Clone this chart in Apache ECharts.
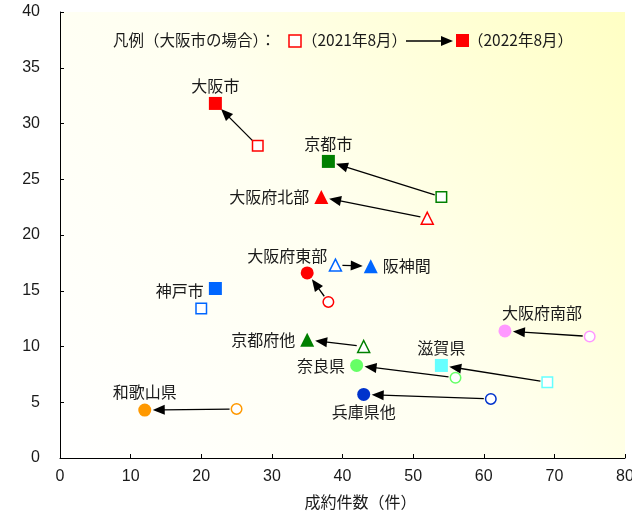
<!DOCTYPE html>
<html><head><meta charset="utf-8">
<script src="https://cdn.jsdelivr.net/npm/echarts@6/dist/echarts.min.js"></script>
<style>html,body{margin:0;padding:0;background:#fff}#c{width:632px;height:511px}</style>
</head><body><div id="c"></div>
<script>
const regions = ['大阪市','京都市','大阪府北部','大阪府東部','阪神間','神戸市','京都府他','奈良県','兵庫県他','滋賀県','大阪府南部','和歌山県'];
const x2021 = [28, 54, 52, 38, 39, 20, 43, 56, 61, 69, 75, 25];
const y2021 = [28.0, 23.4, 21.5, 14.0, 17.3, 13.4, 10.0, 7.2, 5.3, 6.8, 10.9, 4.4];
const x2022 = [22, 38, 37, 35, 44, 22, 35, 42, 43, 54, 63, 12];
const y2022 = [31.8, 26.6, 23.4, 16.6, 17.2, 15.2, 10.6, 8.3, 5.7, 8.3, 11.4, 4.3];
const hasArrow = [true, true, true, true, true, false, true, true, true, true, true, true];
const xTicks = [0, 10, 20, 30, 40, 50, 60, 70, 80];
const yTicks = [0, 5, 10, 15, 20, 25, 30, 35, 40];

// styling per region
const colors = ['#ff0000','#008000','#ff0000','#ff0000','#0066ff','#0066ff','#008000','#66ff66','#0033cc','#66ffff','#ff99ff','#ff9900'];
const shapes = ['rect','rect','triangle','circle','triangle','rect','triangle','circle','circle','rect','circle','circle'];
const labelCfg = {
  '大阪市': {position:'top', distance:3},
  '京都市': {position:'top', distance:3},
  '大阪府北部': {position:'left', distance:5},
  '大阪府東部': {position:'top', distance:2, offset:[-20,0]},
  '阪神間': {position:'right', distance:5},
  '神戸市': {position:'left', distance:5, offset:[0,2]},
  '京都府他': {position:'left', distance:5},
  '奈良県': {position:'left', distance:5},
  '兵庫県他': {position:'bottom', distance:3},
  '滋賀県': {position:'top', distance:3},
  '大阪府南部': {position:'top', distance:3, offset:[37,0]},
  '和歌山県': {position:'top', distance:4}
};
const CJK = '"Noto Sans CJK JP", sans-serif';
const NUM = '"Liberation Sans", Arial, sans-serif';
const symSize = s => s === 'triangle' ? 14 : 13;

const oldData = regions.map((n, i) => ({
  name: n, value: [x2021[i], y2021[i]], symbol: shapes[i],
  symbolSize: shapes[i] === 'triangle' ? 12 : 10.5,
  itemStyle: {color: '#ffffff', borderColor: colors[i], borderWidth: 1.5, opacity: 1}
}));
const newData = regions.map((n, i) => ({
  name: n, value: [x2022[i], y2022[i]], symbol: shapes[i],
  symbolSize: symSize(shapes[i]),
  itemStyle: {color: colors[i], opacity: 1},
  label: Object.assign({show: true, formatter: '{b}'}, labelCfg[n])
}));
const arrowData = [];
regions.forEach((n, i) => { if (hasArrow[i]) arrowData.push([x2021[i], y2021[i], x2022[i], y2022[i]]); });

function renderArrow(params, api) {
  const p0 = api.coord([api.value(0), api.value(1)]);
  const p1 = api.coord([api.value(2), api.value(3)]);
  const dx = p1[0] - p0[0], dy = p1[1] - p0[1];
  const L = Math.sqrt(dx*dx + dy*dy);
  const ux = dx / L, uy = dy / L;
  const s = [p0[0] + ux*7, p0[1] + uy*7];
  const tip = [p1[0] - ux*8, p1[1] - uy*8];
  const hl = 12, hw = 5;
  const base = [tip[0] - ux*hl, tip[1] - uy*hl];
  const px = -uy, py = ux;
  return {
    type: 'group',
    children: [
      {type: 'line', shape: {x1: s[0], y1: s[1], x2: base[0] + ux*2, y2: base[1] + uy*2}, style: {stroke: '#000', lineWidth: 1.3}},
      {type: 'polygon', shape: {points: [tip, [base[0] + px*hw, base[1] + py*hw], [base[0] - px*hw, base[1] - py*hw]]}, style: {fill: '#000'}}
    ]
  };
}

const chart = echarts.init(document.getElementById('c'));
chart.setOption({
  animation: false,
  backgroundColor: '#ffffff',
  grid: {left: 60, right: 7, top: 12, bottom: 53, show: true, borderWidth: 0, outerBoundsMode: 'none', containLabel: false,
    backgroundColor: {type: 'linear', x: 0, y: 1, x2: 1, y2: 0, colorStops: [{offset: 0, color: '#ffffff'}, {offset: 0.5, color: '#fffff0'}, {offset: 1, color: '#ffffc4'}]}},
  xAxis: {
    type: 'value', min: xTicks[0], max: xTicks[xTicks.length-1], interval: 10,
    name: '成約件数（件）', nameLocation: 'middle', nameGap: 36,
    nameTextStyle: {fontFamily: CJK, fontSize: 16, color: '#1a1a1a', padding: [0, 0, 0, 36]},
    axisLine: {lineStyle: {color: '#000', width: 1}},
    axisTick: {inside: true, length: 4, lineStyle: {color: '#000'}},
    axisLabel: {margin: 11, fontSize: 16, color: '#1a1a1a', fontFamily: NUM},
    splitLine: {show: false}
  },
  yAxis: {
    type: 'value', min: yTicks[0], max: yTicks[yTicks.length-1], interval: 5,
    axisLine: {show: true, lineStyle: {color: '#000', width: 1}},
    axisTick: {show: true, inside: true, length: 4, lineStyle: {color: '#000'}},
    axisLabel: {margin: 20, fontSize: 16, color: '#1a1a1a', fontFamily: NUM},
    splitLine: {show: false}
  },
  series: [
    {type: 'custom', renderItem: renderArrow, data: arrowData, encode: {x: [0, 2], y: [1, 3]}, z: 1, silent: true},
    {type: 'scatter', data: oldData, z: 2, emphasis: {disabled: true}},
    {type: 'scatter', data: newData, z: 3, emphasis: {disabled: true},
      label: {color: '#1a1a1a', fontSize: 16, fontFamily: CJK}}
  ],
  graphic: [
    {type: 'text', left: 113, top: 32, style: {text: '凡例（大阪市の場合）：', font: '15.5px ' + CJK, fill: '#1a1a1a'}},
    {type: 'rect', shape: {x: 289, y: 35, width: 12, height: 12}, style: {fill: '#fff', stroke: '#ff0000', lineWidth: 1.5}},
    {type: 'text', left: 302, top: 32, style: {text: '（2021年8月）', font: '15.5px ' + CJK, fill: '#1a1a1a'}},
    {type: 'line', shape: {x1: 406, y1: 41, x2: 444, y2: 41}, style: {stroke: '#000', lineWidth: 1.3}},
    {type: 'polygon', shape: {points: [[453, 41], [441, 36], [441, 46]]}, style: {fill: '#000'}},
    {type: 'rect', shape: {x: 456, y: 34, width: 13, height: 13}, style: {fill: '#ff0000'}},
    {type: 'text', left: 468, top: 32, style: {text: '（2022年8月）', font: '15.5px ' + CJK, fill: '#1a1a1a'}}
  ]
});
</script>
</body></html>
